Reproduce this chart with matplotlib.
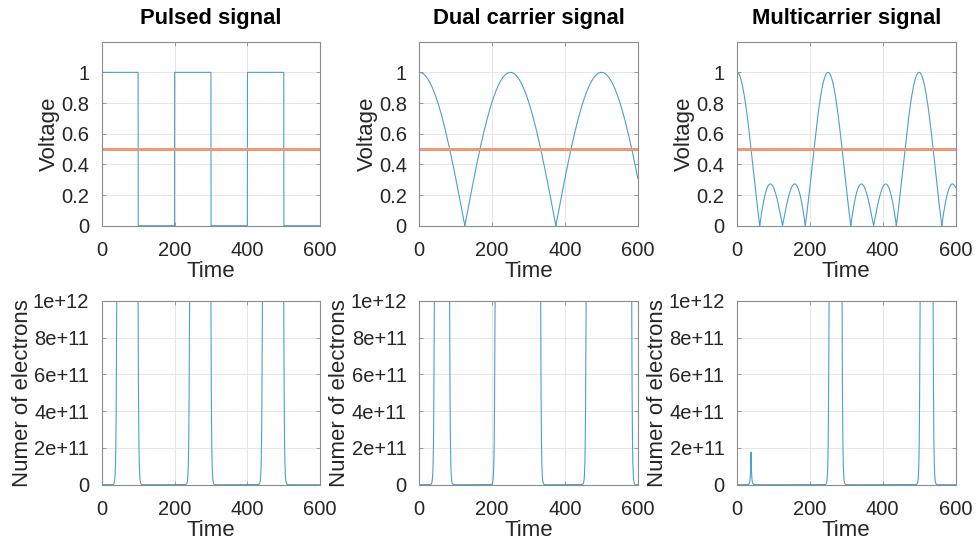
import numpy as np
import matplotlib
matplotlib.use("Agg")
import matplotlib.pyplot as plt

plt.rcParams['font.family'] = ['Liberation Sans', 'DejaVu Sans']

# signal settings
titles = ['Pulsed signal', 'Dual carrier signal', 'Multicarrier signal']
n_carriers = [0, 2, 4]          # 0 -> rectangular pulses
carrier_period = 250.0          # time between envelope peaks
pulse_on = [(0, 100), (200, 300), (400, 500)]
threshold = 0.5                 # multipactor voltage threshold

# electron growth model
n_seed = 1.0
n_sat = 1e12
growth_rate = 0.671             # per time unit, above threshold
t_end = 600.0
dt = 0.05

volt_ticks = [0, 0.2, 0.4, 0.6, 0.8, 1]
volt_ticklabels = ['0', '0.2', '0.4', '0.6', '0.8', '1']
elec_ticks = [0, 2e11, 4e11, 6e11, 8e11, 1e12]
elec_ticklabels = ['0', '2e+11', '4e+11', '6e+11', '8e+11', '1e+12']
time_ticks = [0, 200, 400, 600]

t = np.arange(0, t_end + dt / 2, dt)


def voltage(nc):
    if nc == 0:
        v = np.zeros_like(t)
        for a, b in pulse_on:
            v[(t >= a) & (t < b)] = 1.0
        return v
    k = np.arange(nc)[:, None]
    field = np.exp(2j * np.pi * k * t[None, :] / carrier_period).sum(axis=0)
    return np.abs(field) / nc


def electrons(v):
    n = np.empty_like(v)
    cur = n_seed
    for i, vi in enumerate(v):
        rate = growth_rate if vi > threshold else -growth_rate
        cur = min(max(cur * np.exp(rate * dt), n_seed), n_sat)
        n[i] = cur
    return n


blue = '#4a9fd3'
orange = '#eb9a78'
box = '#8c8c8c'
grid_c = '#e6e6e6'
txt = '#262626'

fig = plt.figure(figsize=(9.76, 5.45), dpi=100)
W, H = 976.0, 545.0
lefts = [101.7, 419.3, 737.0]
width = 218.5
tops = [41.7, 300.7]
height = 184.0


def style(ax):
    for s in ax.spines.values():
        s.set_color(box)
        s.set_linewidth(0.8)
    ax.tick_params(direction='in', length=3, width=0.6, color=box,
                   labelsize=14.5, labelcolor=txt, pad=9,
                   top=True, right=True)
    ax.tick_params(axis='x', pad=11)
    ax.grid(True, color=grid_c, linewidth=0.7)
    ax.set_axisbelow(True)
    ax.set_xlim(0, 600)
    ax.set_xticks(time_ticks)
    ax.set_xlabel('Time', fontsize=16, color=txt, labelpad=1)


for j in range(3):
    v = voltage(n_carriers[j])
    n = electrons(v)

    ax = fig.add_axes([lefts[j] / W, 1 - (tops[0] + height) / H,
                       width / W, height / H])
    style(ax)
    ax.plot(t, v, color=blue, linewidth=0.8)
    ax.axhline(threshold, color=orange, linewidth=2.2)
    ax.set_ylim(0, 1.2)
    ax.set_yticks(volt_ticks)
    ax.set_yticklabels(volt_ticklabels)
    ax.set_ylabel('Voltage', fontsize=16, color=txt, labelpad=1)
    ax.set_title(titles[j], fontsize=15.8, fontweight='bold', pad=13)

    ax2 = fig.add_axes([lefts[j] / W, 1 - (tops[1] + height) / H,
                        width / W, height / H])
    style(ax2)
    ax2.plot(t, n, color=blue, linewidth=0.8)
    ax2.set_ylim(0, 1e12)
    ax2.set_yticks(elec_ticks)
    ax2.set_yticklabels(elec_ticklabels)
    ax2.set_ylabel('Numer of electrons', fontsize=16, color=txt,
                   labelpad=0)

fig.savefig('out.png', dpi=100)
